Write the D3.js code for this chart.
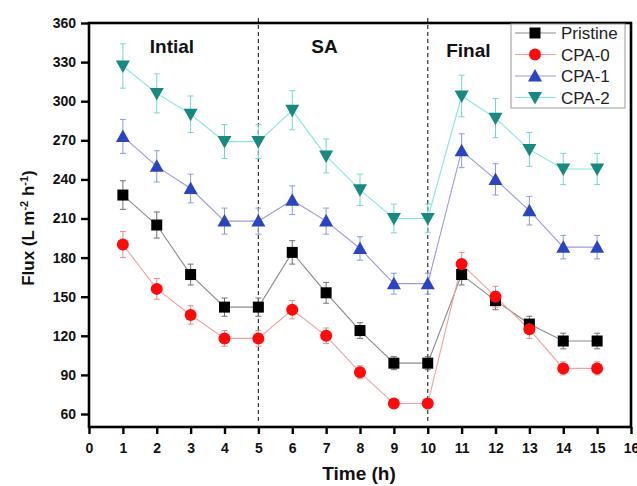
<!DOCTYPE html>
<html><head><meta charset="utf-8">
<script src="https://cdn.jsdelivr.net/npm/d3@7"></script>
<style>body{margin:0;background:#fff}svg{display:block}text{font-family:Arial,"Liberation Sans",sans-serif}</style>
</head><body><svg id="c" width="637" height="486"></svg>
<script>
const hours = [1,2,3,4,5,6,7,8,9,10,11,12,13,14,15];
const pristine = [228,205,167,142,142,184,153,124,99,99,167,147,129,116,116];
const pristineErr = [11,10,8,7,7,9,8,6,5,5,8,7,6,6,6];
const cpa0 = [190,156,136,118,118,140,120,92,68,68,175,150,125,95,95];
const cpa0Err = [10,8,7,6,6,7,6,5,3,3,9,8,7,5,5];
const cpa1 = [273,250,233,208,208,224,208,187,160,160,262,240,216,188,188];
const cpa1Err = [13,12,11,10,10,11,10,9,8,8,13,12,11,9,9];
const cpa2 = [327,306,290,269,269,293,258,232,210,210,304,287,263,248,248];
const cpa2Err = [17,15,14,13,13,15,13,12,11,11,16,15,13,12,12];
const seriesNames = ["Pristine","CPA-0","CPA-1","CPA-2"];
const xTicks = d3.range(0,17,1);
const yTicks = [60,90,120,150,180,210,240,270,300,330,360];
const phaseLabels = ["Intial","SA","Final"];
const phaseBounds = [5,10];

const series = [
  {name:seriesNames[0], v:pristine, e:pristineErr, marker:"#000000", line:"#8a8a8a", err:"#707070", sym:"square"},
  {name:seriesNames[1], v:cpa0, e:cpa0Err, marker:"#ff0a0a", line:"#f4a0a0", err:"#f08a8a", sym:"circle"},
  {name:seriesNames[2], v:cpa1, e:cpa1Err, marker:"#2b45c0", line:"#9a9ae0", err:"#8a9ae6", sym:"up"},
  {name:seriesNames[3], v:cpa2, e:cpa2Err, marker:"#17897f", line:"#86e6e6", err:"#70d8d0", sym:"down"}
];

const svg = d3.select("#c");
const L=89, R=631, T=23, B=427;
const x = d3.scaleLinear().domain([0,16]).range([L,R]);
const y = d3.scaleLinear().domain([360,60]).range([T,414]);

// dashed phase lines
svg.selectAll(".ph").data(phaseBounds).enter().append("line")
  .attr("x1",d=>x(d)).attr("x2",d=>x(d)).attr("y1",18).attr("y2",B-4)
  .attr("stroke","#333").attr("stroke-width",1.2).attr("stroke-dasharray","4,3");

// lines
const lineGen = d3.line().x((d,i)=>x(hours[i])).y(d=>y(d));
series.forEach(s=>{
  svg.append("path").attr("d",lineGen(s.v)).attr("fill","none").attr("stroke",s.line).attr("stroke-width",1.1);
});
// error bars
series.forEach(s=>{
  const g = svg.append("g").attr("stroke",s.err).attr("stroke-width",1);
  s.v.forEach((v,i)=>{
    const cx=x(hours[i]);
    g.append("line").attr("x1",cx).attr("x2",cx).attr("y1",y(v+s.e[i])).attr("y2",y(v-s.e[i]));
    g.append("line").attr("x1",cx-3).attr("x2",cx+3).attr("y1",y(v+s.e[i])).attr("y2",y(v+s.e[i]));
    g.append("line").attr("x1",cx-3).attr("x2",cx+3).attr("y1",y(v-s.e[i])).attr("y2",y(v-s.e[i]));
  });
});
function drawMarker(g,sym,cx,cy,color){
  if(sym==="square") g.append("rect").attr("x",cx-5.5).attr("y",cy-5.5).attr("width",11).attr("height",11).attr("fill",color);
  else if(sym==="circle") g.append("circle").attr("cx",cx).attr("cy",cy).attr("r",6).attr("fill",color);
  else if(sym==="up") g.append("path").attr("d",`M${cx},${cy-7}L${cx+7},${cy+5.5}L${cx-7},${cy+5.5}Z`).attr("fill",color);
  else g.append("path").attr("d",`M${cx},${cy+7}L${cx+7},${cy-5.5}L${cx-7},${cy-5.5}Z`).attr("fill",color);
}
series.forEach(s=>{
  const g=svg.append("g");
  s.v.forEach((v,i)=>drawMarker(g,s.sym,x(hours[i]),y(v),s.marker));
});

// axes
const yAxis = d3.axisLeft(y).tickValues(yTicks).tickSize(8).tickPadding(5);
const gy = svg.append("g").attr("transform",`translate(${L},0)`).call(yAxis);
const xAxis = d3.axisBottom(x).tickValues(xTicks).tickSize(7).tickPadding(9).tickFormat(d3.format("d"));
const gx = svg.append("g").attr("transform",`translate(0,${B})`).call(xAxis);
[gx,gy].forEach(g=>{
  g.select(".domain").remove();
  g.selectAll(".tick line").attr("stroke","#000").attr("stroke-width",2.4);
  g.selectAll(".tick text").attr("font-size",14).attr("font-weight","bold").attr("fill","#111");
});
// frame
svg.append("rect").attr("x",L).attr("y",T).attr("width",R-L).attr("height",B-T)
  .attr("fill","none").attr("stroke","#000").attr("stroke-width",2.6);

// phase labels
const phaseX = [x(2.45), x(6.95), x(11.2)];
const phaseY = [53,53,57];
phaseLabels.forEach((t,i)=>{
  svg.append("text").attr("x",phaseX[i]).attr("y",phaseY[i]).attr("text-anchor","middle")
    .attr("font-size",19).attr("font-weight","bold").attr("fill","#111").text(t);
});

// legend
const lg = svg.append("g");
lg.append("rect").attr("x",511).attr("y",24).attr("width",114).attr("height",84).attr("fill","#fff").attr("stroke","#999").attr("stroke-width",1);
series.forEach((s,i)=>{
  const yy = 33 + i*21.5;
  lg.append("line").attr("x1",515).attr("x2",556).attr("y1",yy).attr("y2",yy).attr("stroke",s.line).attr("stroke-width",1.1);
  drawMarker(lg,s.sym,535,yy,s.marker);
  lg.append("text").attr("x",561).attr("y",yy+6).attr("font-size",17).attr("fill","#222").text(s.name);
});

// axis titles
svg.append("text").attr("x",359).attr("y",480).attr("text-anchor","middle")
  .attr("font-size",19).attr("font-weight","bold").attr("fill","#111").text("Time (h)");
const yl = svg.append("text").attr("transform","translate(34,228) rotate(-90)").attr("text-anchor","middle")
  .attr("font-size",17).attr("font-weight","bold").attr("fill","#111");
yl.append("tspan").text("Flux (L m");
yl.append("tspan").attr("dy",-6).attr("font-size",11).text("-2");
yl.append("tspan").attr("dy",6).text(" h");
yl.append("tspan").attr("dy",-6).attr("font-size",11).text("-1");
yl.append("tspan").attr("dy",6).text(")");
</script></body></html>
